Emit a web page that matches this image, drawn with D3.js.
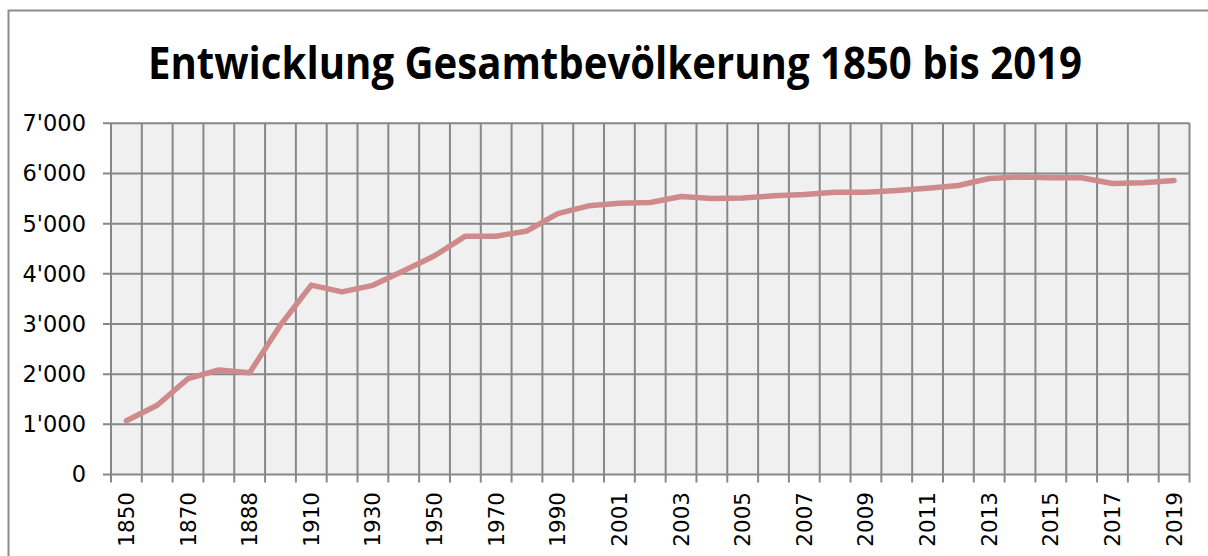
<!DOCTYPE html>
<html>
<head>
<meta charset="utf-8">
<script src="https://cdn.jsdelivr.net/npm/d3@7"></script>
<style>
  body { margin: 0; background: #fff; }
  svg { display: block; }
</style>
</head>
<body>
<svg id="chart" width="1208" height="556"></svg>
<script>
var years = ["1850", "1860", "1870", "1880", "1888", "1900", "1910", "1920", "1930", "1941",
  "1950", "1960", "1970", "1980", "1990", "2000", "2001", "2002", "2003", "2004",
  "2005", "2006", "2007", "2008", "2009", "2010", "2011", "2012", "2013", "2014",
  "2015", "2016", "2017", "2018", "2019"];
var population = [1070, 1380, 1910, 2085, 2030, 2980, 3775, 3640, 3770, 4060,
  4360, 4750, 4750, 4855, 5200, 5355, 5405, 5420, 5540, 5500,
  5510, 5555, 5580, 5625, 5625, 5660, 5705, 5760, 5900, 5930,
  5915, 5915, 5800, 5815, 5860];
var yTicks = [0, 1000, 2000, 3000, 4000, 5000, 6000, 7000];
var title = "Entwicklung Gesamtbevölkerung 1850 bis 2019";

var svg = d3.select("#chart");
// plot area (note: "top" is reserved on window, so use plot* names)
var plotLeft = 111, plotRight = 1189.5, plotTop = 123.3, plotBottom = 474.5;
var gridColor = "#878787";

var fmt = d3.formatLocale({ decimal: ".", thousands: "'", grouping: [3], currency: ["", ""] }).format(",");

var xScale = d3.scaleBand().domain(years).range([plotLeft, plotRight]).padding(0);
var yScale = d3.scaleLinear().domain([0, 7000]).range([plotBottom, plotTop]);
var bw = xScale.bandwidth();

// outer chart frame
svg.append("rect")
  .attr("x", 8.5).attr("y", 10.5)
  .attr("width", 1230).attr("height", 600)
  .attr("fill", "#fff")
  .attr("stroke", "#8c8c8c")
  .attr("stroke-width", 2);

// title
svg.append("text")
  .attr("x", 615).attr("y", 79)
  .attr("text-anchor", "middle")
  .attr("font-family", "'Open Sans', sans-serif")
  .attr("font-weight", "bold")
  .attr("font-size", 44)
  .attr("textLength", 934)
  .attr("lengthAdjust", "spacingAndGlyphs")
  .attr("fill", "#000")
  .text(title);

// plot background
svg.append("rect")
  .attr("x", plotLeft).attr("y", plotTop)
  .attr("width", plotRight - plotLeft).attr("height", plotBottom - plotTop)
  .attr("fill", "#f0f0f0");

var grid = svg.append("g").attr("stroke", gridColor).attr("stroke-width", 2);

// horizontal grid + y ticks
grid.selectAll(".hgrid").data(yTicks).enter().append("line")
  .attr("class", "hgrid")
  .attr("x1", plotLeft - 8).attr("x2", plotRight)
  .attr("y1", function (d) { return yScale(d); })
  .attr("y2", function (d) { return yScale(d); });

// vertical grid at category boundaries + x ticks
var bounds = d3.range(years.length + 1);
grid.selectAll(".vgrid").data(bounds).enter().append("line")
  .attr("class", "vgrid")
  .attr("x1", function (i) { return plotLeft + i * bw; })
  .attr("x2", function (i) { return plotLeft + i * bw; })
  .attr("y1", plotTop)
  .attr("y2", plotBottom + 8);

// y labels
svg.append("g").selectAll("text").data(yTicks).enter().append("text")
  .attr("x", 86)
  .attr("y", function (d) { return yScale(d); })
  .attr("dy", "0.35em")
  .attr("text-anchor", "end")
  .attr("font-family", "'DejaVu Sans', sans-serif")
  .attr("font-size", 22.5)
  .attr("fill", "#000")
  .text(function (d) { return fmt(d); });

// x labels, every other category
svg.append("g").selectAll("text")
  .data(years.filter(function (d, i) { return i % 2 === 0; }))
  .enter().append("text")
  .attr("transform", function (d) {
    return "translate(" + (xScale(d) + bw / 2) + "," + 492 + ") rotate(-90)";
  })
  .attr("dy", "0.35em")
  .attr("text-anchor", "end")
  .attr("font-family", "'DejaVu Sans', sans-serif")
  .attr("font-size", 21.5)
  .attr("fill", "#000")
  .text(function (d) { return d; });

// population line
var line = d3.line()
  .x(function (d, i) { return xScale(years[i]) + bw / 2; })
  .y(function (d) { return yScale(d); });

svg.append("path")
  .datum(population)
  .attr("d", line)
  .attr("fill", "none")
  .attr("stroke", "#cf8b8b")
  .attr("stroke-width", 5.5)
  .attr("stroke-linejoin", "round")
  .attr("stroke-linecap", "round");
</script>
</body>
</html>
